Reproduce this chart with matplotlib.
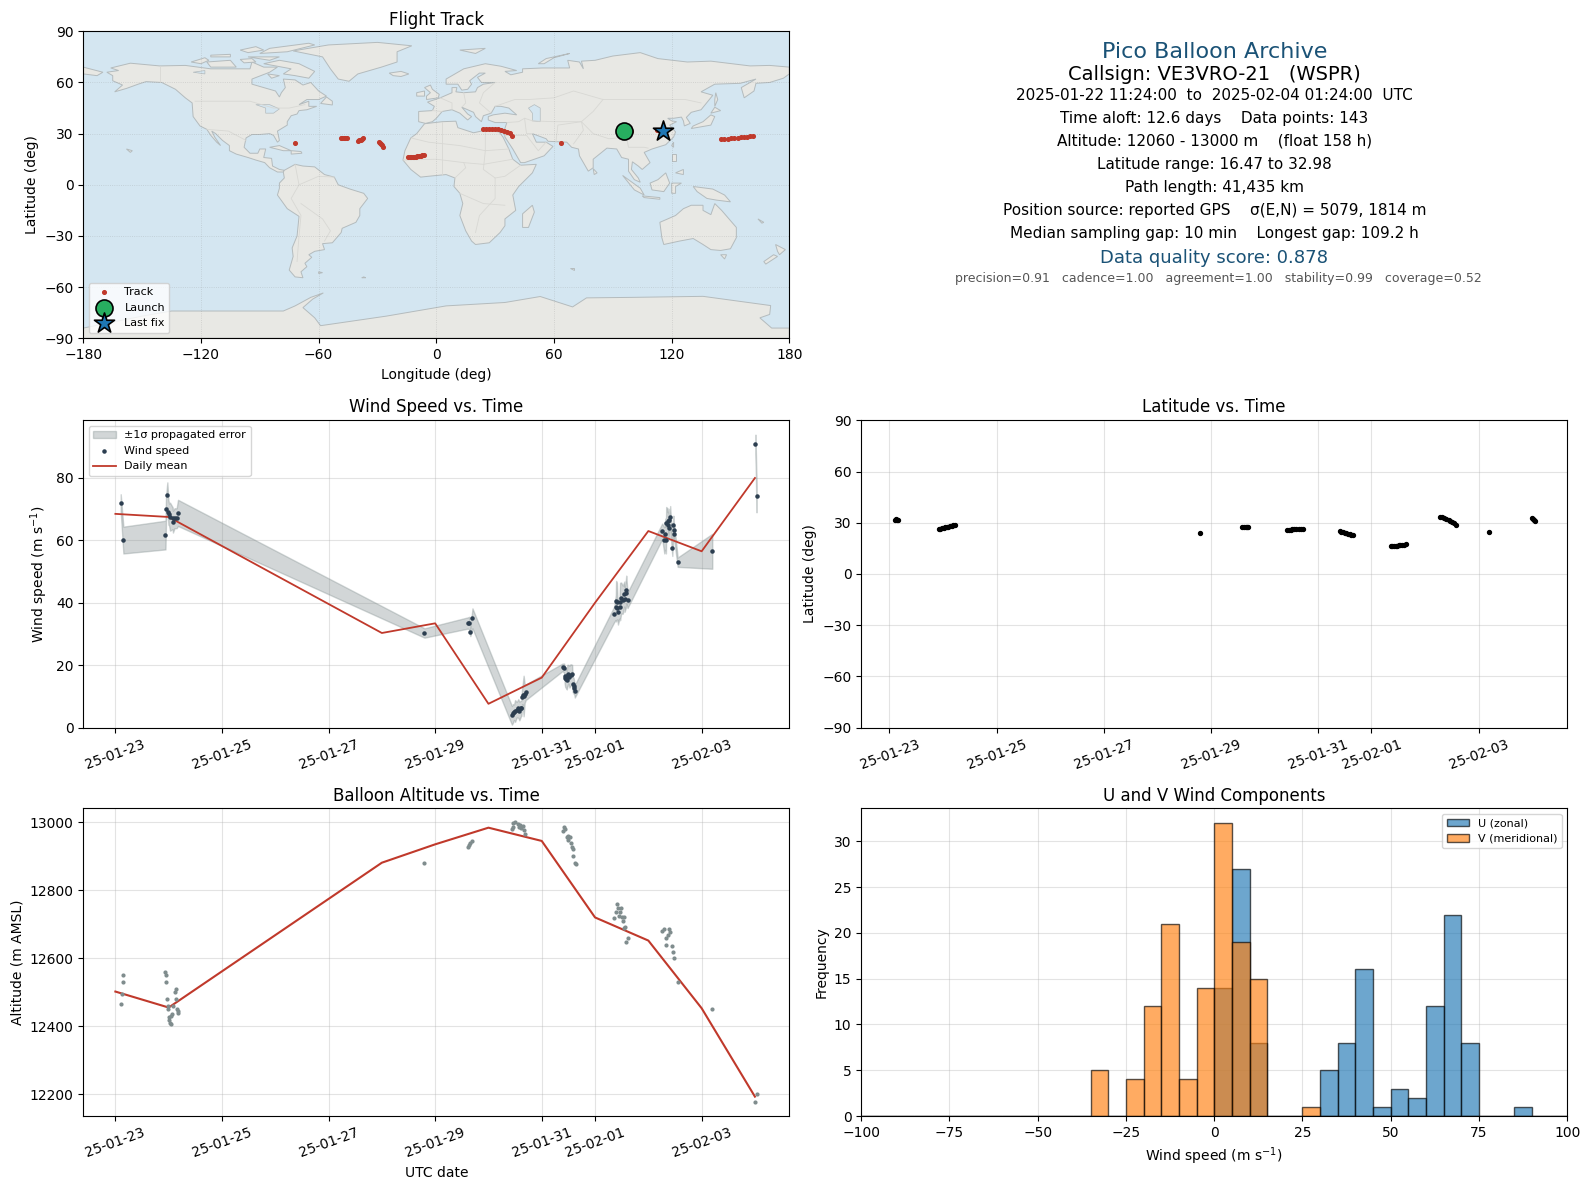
import numpy as np
import matplotlib
matplotlib.use("Agg")
import matplotlib.pyplot as plt
import matplotlib.dates as mdates
from datetime import datetime

# ---- map outlines (lon, lat) ----
north_america = [(-168,66),(-162,67),(-166,68.5),(-156,71.3),(-141,69.7),(-128,70),(-115,68),(-108,68),(-95,68),(-94,72),(-88,69),(-81,69),(-85,66),(-94,62),(-94,59),(-88,57),(-82,55),(-80,51.5),(-79,54),(-77,57),(-78,62),(-72,61.5),(-68,58.5),(-64,60),(-60,55),(-56,52),(-60,50),(-66,50),(-70,47),(-65,49),(-65,46),(-61,46),(-66,44),(-70,43.5),(-71,41.5),(-74,40.5),(-76,37),(-76,35),(-81,31.5),(-80,26),(-81,25),(-83,29),(-85,30),(-90,29.5),(-94,29.5),(-97,27.5),(-98,22),(-95,18.5),(-91,18.5),(-90,21),(-87,21),(-88,16),(-84,15.5),(-83.5,11),(-80,9),(-77.5,8.5),(-78,7.5),(-81,7.5),(-85,10),(-87.5,13),(-92,14.5),(-96,16),(-102,18),(-105.5,20),(-105.5,23),(-109,26),(-112.5,30),(-114.5,31.5),(-113,28),(-110,23),(-112,25),(-115,29),(-117,32.5),(-120.5,34.5),(-124,40),(-124.5,48),(-128,51),(-133,56),(-140,60),(-148,60.5),(-152,59),(-158,56.5),(-164,54.5),(-160,58.5),(-165,61),(-165,64)]
south_america = [(-77.5,8.5),(-72,12),(-68,11),(-62,10.5),(-57,6),(-52,4.5),(-50,0),(-44,-2.5),(-37,-5),(-35,-8),(-39,-14),(-39,-18),(-41,-22),(-48,-25.5),(-48.5,-28),(-53,-34),(-58,-34.5),(-57,-38),(-62,-39),(-65,-41),(-63.5,-42.5),(-67,-46),(-66,-48),(-69,-51),(-68,-54.5),(-72,-54),(-75,-50),(-73,-42),(-73.5,-37),(-71,-30),(-70,-18.5),(-76,-14),(-81,-6),(-80,-2),(-80,1),(-77.5,4),(-78,7.5)]
africa = [(-6,35.8),(3,37),(10,37.3),(11,33.5),(19,30.5),(25,32),(32,31),(34,28),(37,21),(39,15),(43,11.5),(51,12),(49,7),(42,-1),(39,-6),(40.5,-15),(35,-20),(35,-24),(32.5,-28),(27,-34),(20,-35),(18,-33),(15,-27),(12,-18),(13.5,-11),(12,-5),(9,-1),(9.5,4),(5,6),(-4,5),(-8,4.5),(-13,9),(-17,14.5),(-16,20),(-13,27.5),(-10,30)]
eurasia = [(-9,37),(-9,43),(-2,43.5),(-1,46),(-4.5,48.5),(2,51),(8,54),(8,57),(10.5,57),(10,54.5),(14,54),(20,54.5),(21,57),(24,59),(30,60),(23,60),(21,63),(25,65.5),(22,65.5),(17,61),(18,59),(16,56),(13,55.5),(11,59),(5,59),(5,62),(14,68),(25,71),(33,69.5),(41,67),(35,66.5),(38,64.5),(44,66),(44,68),(54,68.5),(68,68.5),(67,73),(73,72),(75,68),(74,72.5),(81,73),(90,75.5),(104,77.5),(113,74),(128,72),(140,72.5),(160,69.7),(170,70),(180,69),(180,65),(177,62.5),(170,60),(163,59.5),(162,55),(157,51),(155.5,57),(163,62),(155,59.5),(142,59),(135,54.5),(141,52.5),(135,44),(130,42.5),(127.5,39.5),(129.5,36),(126.5,34.5),(126,37.5),(125,39.7),(121,39),(118,39),(120,37.5),(122.5,37),(119,35),(122,31),(121,28),(117,23.5),(110,21),(106,19),(109,13),(105,9),(103,11),(100,13.5),(99.5,9),(103,4),(104,1.5),(101,3),(98,8),(98,15),(94.5,16),(92,21),(87,21.5),(80,15),(80,10),(77.5,8),(73,17),(72.5,21),(69,22),(66.5,25),(57,25.5),(56,27),(49,30),(51,25),(56,25),(59.5,22.5),(55,17),(45,13),(43,13),(39,21),(35,28),(34.5,31.5),(36,36.5),(30,36.5),(26.5,38),(26.5,40),(29,41),(35,42),(41,41),(37,45),(33,46),(30,46),(28,42),(24,40.5),(23,37),(20,40),(19,42.5),(13,45.5),(16,41.5),(18,40),(16,38),(12,42),(8,44),(3,43),(0,39),(-2,37),(-5.5,36)]
australia = [(114,-22),(122,-18),(126,-14),(130,-12),(136,-12),(136,-15),(140,-17.5),(142,-11),(145.5,-15),(153,-25),(153,-31),(150,-37.5),(145,-38.5),(140,-38),(136,-35),(131,-31.5),(124,-33),(116,-35),(115,-31)]
antarctica = [(-180,-90),(-180,-84),(-150,-77),(-135,-74),(-100,-74),(-78,-74),(-72,-71),(-64,-66),(-57.6,-63.4),(-63,-67),(-68,-72),(-62,-78),(-59,-82.6),(-25.5,-77),(5,-71),(35,-69),(53,-65.5),(69.5,-71.6),(76.6,-66.3),(100,-66),(136,-65.4),(170.5,-70.8),(170,-76),(165,-78),(171,-84),(180,-84),(180,-90)]
greenland = [(-73,78.5),(-55,82),(-30,83.5),(-12.5,81.5),(-20,78),(-20,72),(-28,69),(-40,65),(-44.5,60.7),(-50,62),(-54,68),(-58,75)]
islands = [
    [(-180,69),(-170,66),(-173,64),(-180,65)],
    [(-80,73),(-70,71),(-62,66.5),(-65,62.5),(-72,64),(-78,65),(-74,68),(-88,71)],
    [(-117,72),(-105,73),(-102,69),(-115,69)],
    [(-90,77),(-85,80),(-65,83),(-62,82),(-76,78)],
    [(-125,72),(-118,74.5),(-116,73),(-120,71)],
    [(-96,75),(-80,75),(-85,73)],
    [(-115,76),(-105,76.5),(-105,75),(-115,75)],
    [(-100,79),(-92,81),(-88,79),(-96,77.5)],
    [(-100,73.5),(-94,74),(-92,72),(-98,71.5)],
    [(-86,65),(-80,64),(-84,62.5)],
    [(-59,47.7),(-53,46.8),(-53,49),(-56,51.5)],
    [(-85,22),(-80,23),(-74,20),(-78,20)],
    [(-74,20),(-69,19.5),(-68.5,18.5),(-74,18)],
    [(-24,65.5),(-18,66.5),(-14,65),(-18,63.5),(-22,64)],
    [(-5,50),(1,51),(1.5,53),(-2,56),(-3,58.5),(-6,57),(-3,54),(-5,52)],
    [(-10,52),(-6,52),(-6,55),(-10,54)],
    [(12,79),(25,80),(20,77)],
    [(52,71),(56,74),(68,77),(60,74.5),(55,71)],
    [(130,33),(135,34),(140,35),(142,40),(140,41),(136,37),(131,34.5)],
    [(140,42),(145,43.5),(142,45.5)],
    [(142,46),(143.5,50),(142.5,54),(142,50)],
    [(120,23),(121,25),(121,22)],
    [(120,18),(122,18),(122,14),(120,14)],
    [(122,7),(126,9),(126,6)],
    [(109,1),(113,3),(117,7),(119,1),(116,-4),(110,-3)],
    [(95,5.5),(104,-2),(106,-6),(101,-3)],
    [(105,-6.5),(114,-7.5),(114,-8.5),(106,-7.5)],
    [(120,1),(125,1),(122,-1),(122,-5),(120,-5)],
    [(131,-1),(141,-2.5),(147,-6),(150,-10),(143,-9),(138,-8),(133,-4)],
    [(145,-41),(148,-41),(147,-43.5)],
    [(173,-35),(178,-38),(175,-41),(174,-39)],
    [(172,-41),(174,-42),(168,-46.5),(167,-45)],
    [(49,-12),(50,-16),(47,-25),(44,-25),(44,-17)],
    [(80,9.5),(82,7),(80.5,6)],
    [(-60,-51),(-58,-51.5),(-60,-52)],
    [(-158,21),(-155,20),(-156,19)],
    [(68,-49),(70,-49),(70,-50)],
    [(164,-20),(167,-22),(166,-22.5)],
    [(-37,-54),(-36,-54.5),(-38,-54.5)],
]
lakes = [
    [(50,47),(53,45),(53,37),(49,37.5),(49,42),(47,45)],
    [(-92,47),(-85,47),(-80,44.5),(-83,42),(-87,42),(-87,45)],
    [(-124,66),(-118,67),(-118,65)],
]
borders = [
    [(-141,69.7),(-141,60)],
    [(-123,49),(-95,49),(-83,45),(-75,45),(-67,47)],
    [(-117,32.5),(-106,31.5),(-97,26)],
    [(-72,12),(-70,0),(-74,-8),(-69,-18),(-70,-30),(-71,-45)],
    [(-52,4.5),(-60,5),(-70,0)],
    [(-69,-11),(-58,-20),(-54,-27),(-57,-33)],
    [(-13,27.5),(-4,25),(12,23),(25,20),(37,21)],
    [(25,32),(25,20),(24,9),(30,4),(30,-8),(22,-18),(20,-28)],
    [(-17,14.5),(0,15),(14,13),(24,12),(39,15)],
    [(3,37),(3,20),(3,6)],
    [(12,-5),(24,-11),(35,-12)],
    [(9.5,4),(15,10),(14,13)],
    [(43,11.5),(35,5),(30,4)],
    [(28,42),(22,48),(24,54),(30,60)],
    [(-2,43.5),(3,43)],
    [(2,51),(8,48),(8,44)],
    [(14,54),(15,48),(13,45.5)],
    [(30,46),(40,50),(47,50),(60,51),(70,55),(85,50),(98,50),(117,50),(127,50),(135,48)],
    [(85,50),(80,43),(74,37),(62,35),(61,25)],
    [(49,37.5),(60,37),(66,37),(74,37)],
    [(74,37),(75,32),(70,24)],
    [(74,37),(80,30),(88,27),(97,28),(98,22),(106,22),(108,21.5)],
    [(36,36.5),(42,37),(45,39),(49,37.5)],
    [(45,39),(46,30),(49,30)],
    [(35,29),(46,29),(52,20),(56,25)],
]

# ---- wind speed, days after 2025-01-23 00:00 ----
wind_days = [0.10, 0.15, 0.94, 0.95, 0.975, 0.995, 1.007, 1.025, 1.075, 1.08, 1.11, 1.15, 1.175,
             5.80, 6.61, 6.64, 6.66, 6.70,
             7.44, 7.46, 7.48, 7.50, 7.53, 7.56, 7.58, 7.61, 7.62, 7.63, 7.64, 7.66, 7.68, 7.70,
             8.39, 8.42, 8.43, 8.44, 8.46, 8.47, 8.48, 8.50, 8.52, 8.54, 8.57, 8.58, 8.60, 8.61, 8.62,
             9.36, 9.39, 9.395, 9.41, 9.42, 9.43, 9.46, 9.47, 9.49, 9.52, 9.55, 9.555, 9.58, 9.585, 9.61,
             10.26, 10.30, 10.32, 10.33, 10.335, 10.36, 10.365, 10.38, 10.39, 10.41, 10.45, 10.47, 10.475, 10.49, 10.55,
             11.20, 12.01, 12.03]
wind_speed = [72.0, 60.1, 61.7, 70.1, 74.6, 69.0, 68.3, 67.6, 67.1, 66.0, 67.1, 67.1, 68.8,
              30.3, 33.5, 33.5, 30.5, 35.0,
              3.9, 4.5, 4.9, 5.3, 5.7, 6.1, 5.3, 6.1, 6.3, 9.8, 10.5, 10.1, 10.9, 11.3,
              19.3, 19.0, 16.6, 16.0, 15.5, 15.2, 16.6, 17.1, 16.3, 16.8, 17.1, 13.9, 13.3, 12.6, 11.6,
              36.3, 38.5, 40.5, 40.4, 38.2, 37.0, 38.5, 40.4, 41.5, 41.0, 42.8, 41.1, 43.0, 44.2, 40.8,
              62.9, 60.0, 62.0, 60.0, 65.7, 66.3, 65.0, 66.6, 63.9, 67.4, 57.5, 64.9, 63.3, 62.0, 53.0,
              56.5, 90.9, 74.2]
wind_sigma = [2.8, 4.3, 4.6, 4.0, 4.0, 4.0, 3.5, 4.5, 3.5, 3.5, 3.2, 3.2, 4.2,
              1.5, 1.8, 2.0, 1.2, 3.2,
              3.0, 3.0, 2.5, 3.5, 2.5, 3.0, 3.0, 2.5, 2.5, 2.5, 3.0, 6.5, 3.0, 2.5,
              1.2, 1.5, 2.5, 3.0, 3.0, 3.0, 3.5, 3.0, 3.5, 3.5, 3.0, 2.5, 2.5, 2.0, 2.0,
              2.5, 4.0, 6.5, 6.0, 3.5, 4.0, 3.5, 6.0, 5.0, 4.5, 4.0, 4.0, 4.5, 4.5, 2.5,
              2.5, 4.2, 5.0, 4.2, 5.0, 4.0, 4.0, 3.5, 3.0, 3.6, 2.5, 3.0, 3.0, 2.5, 1.5,
              5.6, 3.0, 5.2]

# daily means shared by the wind and altitude panels
mean_days = [0, 1, 5, 6, 7, 8, 9, 10, 11, 12]
wind_mean = [68.5, 67.5, 30.3, 33.4, 7.6, 16.0, 40.0, 63.0, 56.5, 80.0]
alt_mean = [12502, 12455, 12881, 12935, 12984, 12945, 12720, 12652, 12453, 12193]

# ---- altitude ----
alt_days = [0.10, 0.12, 0.15, 0.15, 0.94, 0.945, 0.957, 0.976, 0.98, 0.995, 1.01, 1.04, 1.01, 1.03, 1.05, 1.07, 1.09,
            1.11, 1.13, 1.14, 1.16, 1.18, 1.18, 5.80, 6.61, 6.64, 6.66, 6.70,
            7.44, 7.46, 7.47, 7.50, 7.55, 7.57, 7.59, 7.62, 7.65, 7.67, 7.68,
            8.39, 8.42, 8.44, 8.47, 8.50, 8.53, 8.50, 8.55, 8.56, 8.58, 8.59, 8.62, 8.64,
            9.36, 9.39, 9.41, 9.44, 9.48, 9.47, 9.45, 9.50, 9.55, 9.53, 9.56, 9.55, 9.61, 9.58,
            10.26, 10.30, 10.39, 10.41, 10.36, 10.33, 10.34, 10.45, 10.47, 10.49, 10.55, 11.20, 12.03, 12.01]
alt_m = [12465, 12494, 12529, 12550, 12560, 12550, 12529, 12479, 12460, 12450, 12428, 12430, 12419, 12410, 12408, 12437, 12459,
         12500, 12509, 12479, 12452, 12445, 12438, 12879, 12928, 12933, 12938, 12945,
         12979, 12987, 12999, 13000, 12994, 12987, 12992, 12982, 12990, 12977, 12965,
         12975, 12985, 12979, 12958, 12960, 12958, 12948, 12938, 12928, 12921, 12901, 12879, 12878,
         12718, 12737, 12759, 12749, 12749, 12735, 12725, 12722, 12722, 12710, 12693, 12688, 12659, 12649,
         12680, 12686, 12685, 12678, 12669, 12659, 12638, 12635, 12619, 12600, 12529, 12450, 12200, 12178]

# ---- latitude vs time ----
lat_days = [0.10, 0.12, 0.14, 0.16,
            0.92, 0.95, 0.98, 1.01, 1.04, 1.07, 1.10, 1.13, 1.16, 1.19, 1.22,
            5.80, 6.59, 6.62, 6.65, 6.68, 6.70,
            7.43, 7.46, 7.49, 7.52, 7.56, 7.60, 7.64, 7.68, 7.73,
            8.41, 8.44, 8.47, 8.50, 8.53, 8.56, 8.59, 8.62, 8.66,
            9.36, 9.39, 9.42, 9.45, 9.48, 9.51, 9.54, 9.57, 9.61, 9.65,
            10.28, 10.32, 10.36, 10.40, 10.44, 10.47, 10.50, 10.54, 10.58,
            11.20, 12.00, 12.02, 12.04, 12.06]
lat_deg = [31.8, 31.9, 31.8, 31.7,
           26.5, 26.6, 26.8, 27.0, 27.2, 27.4, 27.6, 27.9, 28.1, 28.4, 28.8,
           24.1, 27.6, 27.7, 27.6, 27.5, 27.5,
           25.9, 25.9, 26.0, 26.1, 26.2, 26.4, 26.5, 26.6, 26.5,
           25.1, 24.7, 24.4, 24.1, 23.8, 23.5, 23.2, 22.9, 22.6,
           16.5, 16.5, 16.5, 16.5, 16.6, 16.7, 16.8, 17.0, 17.2, 17.3,
           33.3, 33.1, 32.8, 32.3, 31.8, 31.2, 30.6, 29.6, 28.4,
           24.7, 32.5, 32.0, 31.4, 31.0]

# ---- track on the map ----
track_lon = [-72.3, -48.6, -48.0, -47.2, -46.4, -45.7, -39.8, -39.2, -38.5, -37.9, -37.4,
             -29.1, -28.7, -28.3, -27.9, -27.4,
             -14.4, -13.6, -12.8, -12.0, -11.2, -10.4, -9.6, -8.8, -8.0, -7.2, -6.5,
             23.7, 25.5, 27.0, 28.5, 30.0, 31.5, 33.0, 34.5, 36.0, 37.4, 38.6, 63.6, 99.2, 112.5, 114.5,
             145.0, 146.8, 148.6, 150.4, 152.0, 153.7, 155.4, 157.0, 158.6, 160.2, 161.7]
track_lat = [24.5, 27.5, 27.6, 27.6, 27.5, 27.5, 25.5, 26.0, 26.5, 27.0, 27.5,
             25.3, 24.6, 23.9, 23.2, 22.4,
             16.1, 16.2, 16.2, 16.3, 16.4, 16.5, 16.7, 16.9, 17.1, 17.4, 17.7,
             33.0, 33.0, 33.0, 32.9, 32.8, 32.6, 32.3, 31.8, 31.0, 30.4, 28.4, 24.5, 31.4, 32.3, 32.0,
             26.9, 27.0, 27.1, 27.3, 27.4, 27.6, 27.8, 28.0, 28.2, 28.4, 28.6]
launch_lon, launch_lat = 95.6, 31.6
last_lon, last_lat = 115.8, 31.6

# ---- histogram counts per 5 m/s bin ----
bin_edges = np.arange(-100, 100, 5)
u_bins = {0: 14, 5: 27, 10: 8, 30: 5, 35: 8, 40: 16, 45: 1, 50: 3, 55: 2, 60: 12, 65: 22, 70: 8, 85: 1}
v_bins = {-35: 5, -25: 4, -20: 12, -15: 21, -10: 4, -5: 14, 0: 32, 5: 19, 10: 15, 25: 1}
u_counts = [u_bins.get(int(e), 0) for e in bin_edges]
v_counts = [v_bins.get(int(e), 0) for e in bin_edges]

# ---- header text ----
info_lines = [
    ("Pico Balloon Archive", 16, "#1a5276", 1214.5, 51.5),
    ("Callsign: VE3VRO-21   (WSPR)", 14, "black", 1214.5, 74.8),
    ("2025-01-22 11:24:00  to  2025-02-04 01:24:00  UTC", 11, "black", 1214.5, 95.8),
    ("Time aloft: 12.6 days    Data points: 143", 11, "black", 1214.5, 118.8),
    ("Altitude: 12060 - 13000 m    (float 158 h)", 11, "black", 1214.5, 141.5),
    ("Latitude range: 16.47 to 32.98", 11, "black", 1214.5, 164.3),
    ("Path length: 41,435 km", 11, "black", 1214.5, 187.2),
    ("Position source: reported GPS    σ(E,N) = 5079, 1814 m", 11, "black", 1214.5, 210.2),
    ("Median sampling gap: 10 min    Longest gap: 109.2 h", 11, "black", 1214.5, 233.2),
    ("Data quality score: 0.878", 13, "#1a5276", 1214.5, 258.2),
    ("precision=0.91   cadence=1.00   agreement=1.00   stability=0.99   coverage=0.52", 9, "#555555", 1218.5, 278.7),
]

W, H = 1590, 1189
GREY = "#7f8c8d"
DARK = "#2c3e50"
RED = "#c0392b"


def px_axes(fig, left, top, right, bottom):
    return fig.add_axes([left / W, 1 - bottom / H, (right - left) / W, (bottom - top) / H])


def to_dates(days):
    return mdates.date2num(datetime(2025, 1, 23)) + np.array(days, dtype=float)


def date_axis(ax, xlim):
    ticks = [datetime(2025, 1, 23), datetime(2025, 1, 25), datetime(2025, 1, 27), datetime(2025, 1, 29),
             datetime(2025, 1, 31), datetime(2025, 2, 1), datetime(2025, 2, 3)]
    ax.set_xticks(mdates.date2num(ticks))
    ax.xaxis.set_major_formatter(mdates.DateFormatter("%y-%m-%d"))
    ax.set_xlim(to_dates(xlim))
    ax.tick_params(axis="x", labelrotation=20)
    ax.grid(True, alpha=0.35)
    ax.set_axisbelow(True)


fig = plt.figure(figsize=(W / 100, H / 100), dpi=100)

# flight track
ax = px_axes(fig, 83.3, 31.3, 789.3, 338.3)
ax.set_facecolor("#d4e6f1")
for poly in [north_america, south_america, africa, eurasia, australia, antarctica, greenland] + islands:
    xy = np.array(poly)
    ax.fill(xy[:, 0], xy[:, 1], facecolor="#e8e8e4", edgecolor="#b4bbbd", lw=0.7, zorder=1)
for poly in lakes:
    xy = np.array(poly)
    ax.fill(xy[:, 0], xy[:, 1], facecolor="#d4e6f1", edgecolor="#b4bbbd", lw=0.5, zorder=1.1)
for line in borders:
    xy = np.array(line)
    ax.plot(xy[:, 0], xy[:, 1], color="#d8d8d4", lw=0.6, zorder=1.2)
ax.grid(True, color="#888888", alpha=0.3, lw=0.6, ls=":", zorder=1.5)
ax.scatter(track_lon, track_lat, s=7, color=RED, zorder=3, label="Track")
ax.scatter(launch_lon, launch_lat, s=150, color="#27ae60", edgecolor="black", lw=1.2, zorder=4, label="Launch")
ax.scatter(last_lon, last_lat, s=230, marker="*", color="#1f77b4", edgecolor="black", lw=1.2, zorder=5, label="Last fix")
ax.set_xlim(-180, 180)
ax.set_ylim(-90, 90)
ax.set_xticks(np.arange(-180, 181, 60))
ax.set_yticks(np.arange(-90, 91, 30))
ax.set_xlabel("Longitude (deg)")
ax.set_ylabel("Latitude (deg)")
ax.set_title("Flight Track", fontsize=12, pad=4.5)
ax.legend(loc="lower left", fontsize=8)

# text panel
for text, size, color, x, y in info_lines:
    fig.text(x / W, 1 - y / H, text, fontsize=size, color=color, ha="center", va="center")

# wind speed; the band stops at the gap before the last two fixes
ax = px_axes(fig, 83.3, 420.3, 789.3, 727.5)
wind_low = np.array(wind_speed) - np.array(wind_sigma)
wind_high = np.array(wind_speed) + np.array(wind_sigma)
split = wind_days.index(12.01)
ax.fill_between(to_dates(wind_days[:split]), wind_low[:split], wind_high[:split], color=GREY, alpha=0.35,
                label="±1σ propagated error")
ax.fill_between(to_dates(wind_days[split:]), wind_low[split:], wind_high[split:], color=GREY, alpha=0.35)
ax.scatter(to_dates(wind_days), wind_speed, s=5, color=DARK, zorder=3, label="Wind speed")
ax.plot(to_dates(mean_days), wind_mean, color=RED, lw=1.3, label="Daily mean")
date_axis(ax, [-0.602, 12.645])
ax.set_ylim(0, 98.5)
ax.set_ylabel("Wind speed (m s$^{-1}$)")
ax.set_title("Wind Speed vs. Time", fontsize=12)
ax.legend(loc="upper left", fontsize=8)

# latitude
ax = px_axes(fig, 861.2, 420.3, 1567.2, 727.5)
ax.scatter(to_dates(lat_days), lat_deg, s=8, color="black", zorder=3)
date_axis(ax, [-0.528, 12.655])
ax.set_ylim(-90, 90)
ax.set_yticks(np.arange(-90, 91, 30))
ax.set_ylabel("Latitude (deg)")
ax.set_title("Latitude vs. Time", fontsize=12)

# altitude
ax = px_axes(fig, 83.3, 808.3, 789.3, 1116)
ax.scatter(to_dates(alt_days), alt_m, s=4, color=GREY, zorder=3)
ax.plot(to_dates(mean_days), alt_mean, color=RED, lw=1.5)
date_axis(ax, [-0.602, 12.645])
ax.set_ylim(12136, 13041)
ax.set_yticks(np.arange(12200, 13001, 200))
ax.set_xlabel("UTC date")
ax.set_ylabel("Altitude (m AMSL)")
ax.set_title("Balloon Altitude vs. Time", fontsize=12, pad=5)

# histogram
ax = px_axes(fig, 861.2, 808.3, 1567.2, 1116)
ax.bar(bin_edges, u_counts, width=5, align="edge", color="C0", edgecolor="black", alpha=0.65, label="U (zonal)")
ax.bar(bin_edges, v_counts, width=5, align="edge", color="C1", edgecolor="black", alpha=0.65, label="V (meridional)")
ax.set_xlim(-100, 100)
ax.set_ylim(0, 33.6)
ax.set_xticks(np.arange(-100, 101, 25))
ax.grid(True, alpha=0.35)
ax.set_axisbelow(True)
ax.set_xlabel("Wind speed (m s$^{-1}$)")
ax.set_ylabel("Frequency")
ax.set_title("U and V Wind Components", fontsize=12, pad=5)
ax.legend(loc="upper right", fontsize=8)

fig.savefig("out.png", dpi=100)
